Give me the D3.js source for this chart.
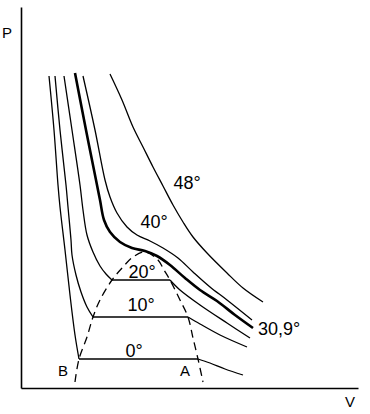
<!DOCTYPE html>
<html>
<head>
<meta charset="utf-8">
<script src="https://cdn.jsdelivr.net/npm/d3@7"></script>
<style>
  html, body { margin: 0; padding: 0; background: #fff; }
  text { font-family: "Liberation Sans", Arial, sans-serif; fill: #000; }
</style>
</head>
<body>
<svg id="chart" width="370" height="414"></svg>
<script>
// isotherms of CO2 (arbitrary V / P units)
// subcritical ones are split in liquid branch, plateau and gas branch
const iso0Liquid = [[2.8,31.2],[3.3,25.8],[3.7,20.3],[3.9,18.1],[4.4,13.8],[4.9,9.3],[5.4,5.3],[5.8,2.9]];
const iso0Plateau = [[5.8,2.9],[17.7,2.9]];
const iso0Gas = [[17.7,2.9],[18.9,2.5],[20.4,1.9],[22.2,1.3]];

const iso10Liquid = [[3.4,31.2],[3.9,25.8],[4.5,20.3],[4.7,18.1],[5.0,14.8],[5.1,13.3],[5.5,11.3],[6.0,9.6],[6.6,8.1],[7.2,7.1]];
const iso10Plateau = [[7.2,7.1],[16.7,7.1]];
const iso10Gas = [[16.7,7.1],[17.9,6.4],[19.9,5.3],[22.6,4.1]];

const iso20Liquid = [[4.3,31.2],[5.1,25.8],[5.9,20.3],[6.2,17.8],[6.6,15.3],[7.2,13.6],[7.9,12.2],[8.5,11.4],[9.1,10.8]];
const iso20Plateau = [[9.1,10.8],[14.9,10.8]];
const iso20Gas = [[14.9,10.8],[15.9,9.8],[17.9,8.3],[20.6,6.5],[22.9,5.0]];

const isoCritical = [[5.4,31.5],[6.5,25.8],[7.5,20.8],[7.9,18.8],[8.3,16.8],[8.9,15.6],[9.9,14.6],[11.1,14.0],[12.4,13.7],[13.6,13.2],[14.9,12.3],[16.4,11.0],[17.9,9.8],[19.6,8.7],[21.4,7.3],[23.2,6.0]];

const iso40 = [[6.2,31.2],[7.4,25.8],[8.4,20.8],[8.9,19.1],[9.6,17.5],[10.6,16.1],[11.6,15.3],[12.9,14.7],[14.2,14.0],[15.7,13.0],[17.2,11.6],[18.9,10.1],[20.6,8.8],[23.1,6.8]];

const iso48 = [[8.9,31.4],[10.1,28.8],[11.2,26.1],[12.2,24.1],[13.2,22.1],[14.2,20.2],[15.2,18.3],[16.2,16.6],[17.2,15.1],[18.6,13.5],[20.6,11.5],[22.2,10.0],[24.2,8.6]];

// coexistence dome (dashed)
const dome = [[5.4,0.6],[5.8,2.9],[6.6,5.1],[7.2,7.1],[7.9,8.8],[9.1,10.8],[10.2,12.1],[11.2,13.1],[12.4,13.6],[13.7,12.8],[14.3,11.8],[14.9,10.8],[15.9,8.8],[16.7,7.1],[17.2,5.0],[17.7,2.9],[18.2,0.6]];

const thinLines = [iso0Liquid, iso0Plateau, iso0Gas, iso10Liquid, iso10Plateau, iso10Gas,
                   iso20Liquid, iso20Plateau, iso20Gas, iso40, iso48];

const isoLabels = ['0°', '10°', '20°', '40°', '48°'];
const isoLabelPos = [[11.3,3.7],[12.0,8.3],[12.1,11.6],[13.3,16.6],[16.6,20.5]];
const critLabel = '30,9°';
const critLabelPos = [23.7,5.9];
const pointLabels = ['B', 'A'];
const pointLabelPos = [[4.2,1.7],[16.4,1.7]];

const svg = d3.select('#chart');
const margin = { top: 7, right: 12, bottom: 26, left: 21 };
const width = 370, height = 414;

const x = d3.scaleLinear().domain([0, 33.7]).range([margin.left, width - margin.right]);
const y = d3.scaleLinear().domain([0, 38.1]).range([height - margin.bottom, margin.top]);

const line = d3.line()
  .x(d => x(d[0]))
  .y(d => y(d[1]))
  .curve(d3.curveCatmullRom.alpha(0.5));

// axes, no ticks
svg.append('g')
  .attr('transform', `translate(0,${y(0)})`)
  .call(d3.axisBottom(x).tickValues([]).tickSizeOuter(0))
  .select('.domain').attr('stroke', '#000').attr('stroke-width', 1.6);

svg.append('g')
  .attr('transform', `translate(${x(0)},0)`)
  .call(d3.axisLeft(y).tickValues([]).tickSizeOuter(0))
  .select('.domain').attr('stroke', '#000').attr('stroke-width', 1.6);

svg.append('text').attr('x', x(0) - 14).attr('y', margin.top + 31)
  .attr('font-size', 15).attr('text-anchor', 'middle').text('P');
svg.append('text').attr('x', width - 20).attr('y', y(0) + 19)
  .attr('font-size', 15).attr('text-anchor', 'middle').text('V');

svg.append('g')
  .selectAll('path')
  .data(thinLines)
  .enter()
  .append('path')
  .attr('d', line)
  .attr('fill', 'none')
  .attr('stroke', '#000')
  .attr('stroke-width', 1.3);

svg.append('path')
  .datum(isoCritical)
  .attr('d', line)
  .attr('fill', 'none')
  .attr('stroke', '#000')
  .attr('stroke-width', 2.6);

svg.append('path')
  .datum(dome)
  .attr('d', line)
  .attr('fill', 'none')
  .attr('stroke', '#000')
  .attr('stroke-width', 1.3)
  .attr('stroke-dasharray', '8,5');

svg.append('g')
  .selectAll('text')
  .data(isoLabels)
  .enter()
  .append('text')
  .attr('x', (d, i) => x(isoLabelPos[i][0]))
  .attr('y', (d, i) => y(isoLabelPos[i][1]))
  .attr('dy', '0.35em')
  .attr('font-size', 18)
  .attr('text-anchor', 'middle')
  .text(d => d);

svg.append('text')
  .attr('x', x(critLabelPos[0]))
  .attr('y', y(critLabelPos[1]))
  .attr('dy', '0.35em')
  .attr('font-size', 18)
  .text(critLabel);

svg.append('g')
  .selectAll('text')
  .data(pointLabels)
  .enter()
  .append('text')
  .attr('x', (d, i) => x(pointLabelPos[i][0]))
  .attr('y', (d, i) => y(pointLabelPos[i][1]))
  .attr('dy', '0.35em')
  .attr('font-size', 15)
  .attr('text-anchor', 'middle')
  .text(d => d);
</script>
</body>
</html>
